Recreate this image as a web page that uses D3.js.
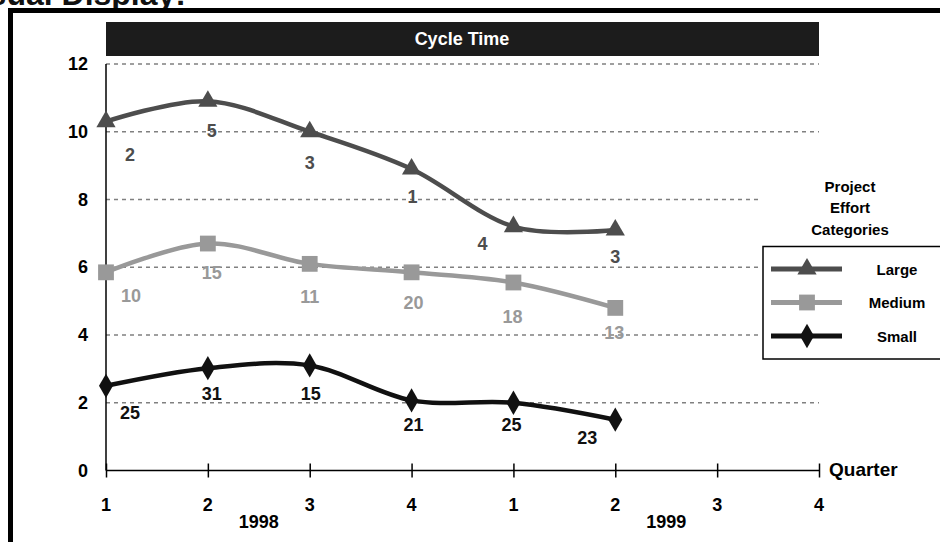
<html>
<head>
<style>
  body { margin: 0; background: #fff; }
  text { font-family: "Liberation Sans", Arial, sans-serif; font-weight: bold; }
</style>
</head>
<body>
<svg id="chart" width="940" height="542"></svg>
<script src="https://cdn.jsdelivr.net/npm/d3@7"></script>
<script>
// data
let quarters = ["1", "2", "3", "4", "1", "2", "3", "4"]
let years = ["1998", "1999"]
let yTicks = [0, 2, 4, 6, 8, 10, 12]
let seriesNames = ["Large", "Medium", "Small"]
let largeValues = [10.3, 10.9, 10.0, 8.9, 7.2, 7.1]
let mediumValues = [5.85, 6.7, 6.1, 5.85, 5.55, 4.8]
let smallValues = [2.5, 3.02, 3.1, 2.07, 2.0, 1.5]
let largeCounts = ["2", "5", "3", "1", "4", "3"]
let mediumCounts = ["10", "15", "11", "20", "18", "13"]
let smallCounts = ["25", "31", "15", "21", "25", "23"]

// label placement (layout only)
let largeOffsets = [[24, 33], [4, 30], [0, 31], [1, 28], [-31, 17], [0, 27]]
let mediumOffsets = [[25, 24], [4, 29], [0, 33], [2, 31], [-1, 35], [-1, 25]]
let smallOffsets = [[24, 27], [4, 26], [1, 29], [2, 25], [-2, 22], [-28, 18]]

let svg = d3.select("#chart")

let x = d3.scaleLinear().domain([0, 7]).range([106, 819])
let y = d3.scaleLinear().domain([0, 12]).range([470.5, 64])

// page heading, cut off at the top
svg.append("text").attr("x", 186).attr("y", 5).attr("text-anchor", "end")
  .attr("font-size", 32).attr("fill", "#111").text("Visual Display:")

// outer frame
svg.append("rect").attr("x", 10.5).attr("y", 10.5).attr("width", 960).attr("height", 560)
  .attr("fill", "none").attr("stroke", "#000").attr("stroke-width", 5)

// title bar
svg.append("rect").attr("x", 106).attr("y", 22).attr("width", 713).attr("height", 34).attr("fill", "#1c1c1c")
svg.append("text").attr("x", 462).attr("y", 39).attr("dominant-baseline", "central")
  .attr("text-anchor", "middle").attr("font-size", 18).attr("fill", "#fff").text("Cycle Time")

// gridlines
svg.append("g").selectAll("line").data(yTicks.filter(d => d > 0)).enter().append("line")
  .attr("x1", 106).attr("x2", 819).attr("y1", d => y(d)).attr("y2", d => y(d))
  .attr("stroke", "#808080").attr("stroke-width", 1.5).attr("stroke-dasharray", "4,4")

// legend area background hides gridlines
svg.append("rect").attr("x", 762).attr("y", 168).attr("width", 180).attr("height", 192).attr("fill", "#fff")

// y axis
svg.append("line").attr("x1", 106).attr("x2", 106).attr("y1", y(12)).attr("y2", y(0))
  .attr("stroke", "#000").attr("stroke-width", 1.5)
svg.append("g").selectAll("text").data(yTicks).enter().append("text")
  .attr("x", 88).attr("y", d => y(d)).attr("text-anchor", "end").attr("dominant-baseline", "central")
  .attr("font-size", 18).attr("fill", "#000").text(d => d)

// x axis
let xAxis = d3.axisBottom(x).tickValues(d3.range(8)).tickSize(14).tickFormat("")
let xg = svg.append("g").attr("transform", `translate(0,${y(0)})`).call(xAxis)
xg.select(".domain").attr("stroke-width", 1.5).attr("d", `M106,0H819`)
xg.selectAll(".tick line").attr("y1", -7).attr("y2", 7).attr("stroke-width", 1.5)
svg.append("g").selectAll("text").data(quarters).enter().append("text")
  .attr("x", (d, i) => x(i)).attr("y", 505).attr("text-anchor", "middle").attr("dominant-baseline", "central")
  .attr("font-size", 18).attr("fill", "#000").text(d => d)
svg.append("g").selectAll("text").data(years).enter().append("text")
  .attr("x", (d, i) => x(1.5 + i * 4)).attr("y", 522).attr("text-anchor", "middle").attr("dominant-baseline", "central")
  .attr("font-size", 18).attr("fill", "#000").text(d => d)
svg.append("text").attr("x", 829).attr("y", 469).attr("dominant-baseline", "central")
  .attr("font-size", 19).attr("fill", "#000").text("Quarter")

// series
let series = [
  { name: seriesNames[0], values: largeValues, counts: largeCounts, offs: largeOffsets, color: "#4d4d4d", symbol: d3.symbolTriangle, size: 160 },
  { name: seriesNames[1], values: mediumValues, counts: mediumCounts, offs: mediumOffsets, color: "#999999", symbol: d3.symbolSquare, size: 250 },
  { name: seriesNames[2], values: smallValues, counts: smallCounts, offs: smallOffsets, color: "#111111", symbol: d3.symbolDiamond, size: 170 }
]

let line = d3.line().x((d, i) => x(i)).y(d => y(d)).curve(d3.curveCatmullRom.alpha(0))

series.forEach(s => {
  let g = svg.append("g")
  g.append("path").attr("d", line(s.values)).attr("fill", "none")
    .attr("stroke", s.color).attr("stroke-width", 4.5)
  g.selectAll("path.m").data(s.values).enter().append("path").attr("class", "m")
    .attr("d", d3.symbol().type(s.symbol).size(s.size))
    .attr("transform", (d, i) => `translate(${x(i)},${y(d)})`)
    .attr("fill", s.color)
  g.selectAll("text").data(s.counts).enter().append("text")
    .attr("x", (d, i) => x(i) + s.offs[i][0]).attr("y", (d, i) => y(s.values[i]) + s.offs[i][1])
    .attr("text-anchor", "middle").attr("dominant-baseline", "central")
    .attr("font-size", 18).attr("fill", s.color).text(d => d)
})

// legend
let legendTitle = ["Project", "Effort", "Categories"]
svg.append("g").selectAll("text").data(legendTitle).enter().append("text")
  .attr("x", 850).attr("y", (d, i) => 186 + i * 21.5).attr("text-anchor", "middle").attr("dominant-baseline", "central")
  .attr("font-size", 15).attr("fill", "#000").text(d => d)
svg.append("rect").attr("x", 763).attr("y", 246.5).attr("width", 200).attr("height", 112.5)
  .attr("fill", "#fff").attr("stroke", "#000").attr("stroke-width", 1.5)
let lg = svg.append("g").selectAll("g").data(series).enter().append("g")
  .attr("transform", (d, i) => `translate(0,${269 + i * 33.5})`)
lg.append("line").attr("x1", 771).attr("x2", 842).attr("y1", 0).attr("y2", 0)
  .attr("stroke", d => d.color).attr("stroke-width", 5)
lg.append("path").attr("d", d => d3.symbol().type(d.symbol).size(d.size)())
  .attr("transform", "translate(807,0)").attr("fill", d => d.color)
lg.append("text").attr("x", 897).attr("y", 0).attr("text-anchor", "middle").attr("dominant-baseline", "central")
  .attr("font-size", 15).attr("fill", "#000").text(d => d.name)
</script>
</body>
</html>
